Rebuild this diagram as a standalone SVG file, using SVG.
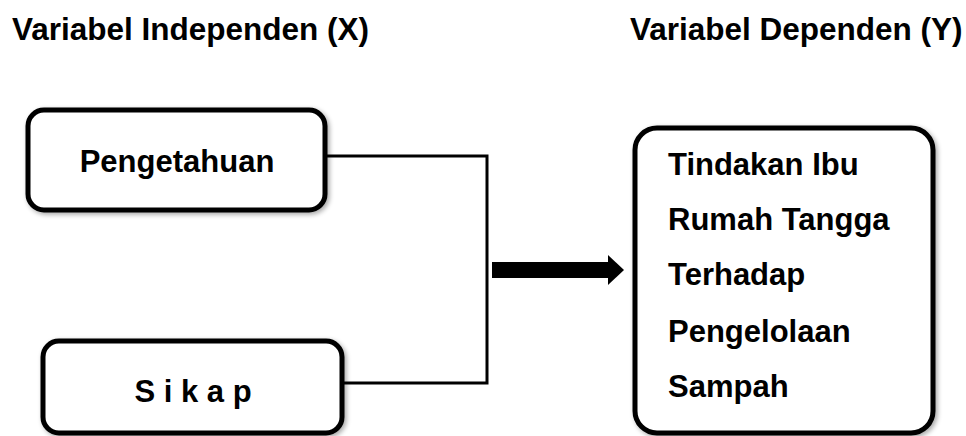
<svg xmlns="http://www.w3.org/2000/svg" width="966" height="436" viewBox="0 0 966 436">
  <defs>
    <filter id="sh" x="-10%" y="-10%" width="125%" height="130%">
      <feGaussianBlur in="SourceAlpha" stdDeviation="2.5"/>
      <feOffset dx="2" dy="2" result="b"/>
      <feComponentTransfer><feFuncA type="linear" slope="0.35"/></feComponentTransfer>
      <feMerge><feMergeNode/><feMergeNode in="SourceGraphic"/></feMerge>
    </filter>
  </defs>
  <style>
    .box { fill: #ffffff; stroke: #000000; stroke-width: 5; filter: url(#sh); }
    .t { font-family: "Liberation Sans", Arial, sans-serif; font-weight: bold; font-size: 31px; fill: #000000; }
    .title { font-family: "Liberation Sans", Arial, sans-serif; font-weight: bold; font-size: 31.5px; fill: #000000; }
    .line { fill: none; stroke: #000000; stroke-width: 3; }
  </style>
  <rect width="966" height="436" fill="#ffffff"/>
  <g id="title-x"><text class="title" x="12" y="40">Variabel Independen (X)</text></g>
  <g id="title-y"><text class="title" x="630" y="40">Variabel Dependen (Y)</text></g>
  <g id="connectors">
    <polyline class="line" points="325,156 487,156 487,383 342,383"/>
    <rect x="492" y="262" width="116" height="16" fill="#000000"/>
    <polygon points="608,255 624,270 608,285" fill="#000000"/>
  </g>
  <g id="node-pengetahuan">
    <rect class="box" x="28" y="110" width="297" height="100" rx="16"/>
    <text class="t" x="177" y="172" text-anchor="middle">Pengetahuan</text>
  </g>
  <g id="node-sikap">
    <rect class="box" x="43" y="341" width="299" height="92" rx="16"/>
    <text class="t" x="193" y="402" text-anchor="middle">S i k a p</text>
  </g>
  <g id="node-tindakan">
    <rect class="box" x="635" y="128" width="298" height="305" rx="22"/>
    <text class="t" x="668" y="175">Tindakan Ibu</text>
    <text class="t" x="668" y="230">Rumah Tangga</text>
    <text class="t" x="668" y="285">Terhadap</text>
    <text class="t" x="668" y="342">Pengelolaan</text>
    <text class="t" x="668" y="397">Sampah</text>
  </g>
</svg>
